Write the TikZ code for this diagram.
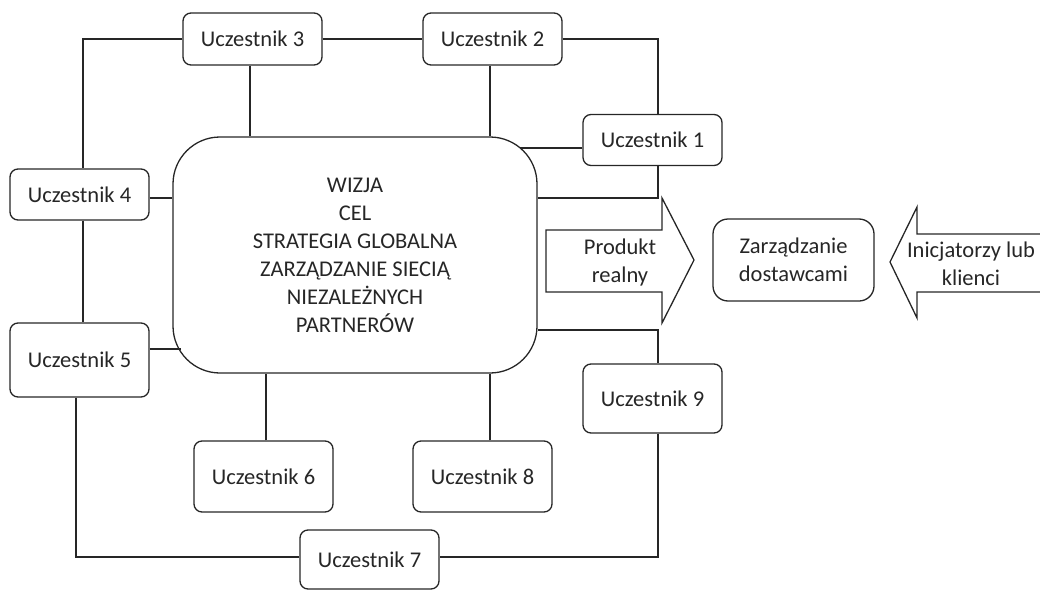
\documentclass[tikz,border=0pt]{standalone}
\usepackage{fontspec}
\setmainfont{Carlito}
\begin{document}
\begin{tikzpicture}[x=1pt,y=-1pt,
  txt/.style={font=\fontsize{22.5}{28}\selectfont, text=black!85, align=center, inner sep=0pt},
  ubox/.style={txt, draw=black!85, line width=1.3pt, rounded corners=8pt, minimum width=139pt},
  link/.style={line width=1.3pt, draw=black!85}]
\useasboundingbox (0,0) rectangle (1040,591);
% central
\node[txt, draw=black!85, line width=1.3pt, rounded corners=47pt, minimum width=364pt, minimum height=236pt] (c) at (355,255)
  {WIZJA\\CEL\\STRATEGIA GLOBALNA\\ZARZĄDZANIE SIECIĄ\\NIEZALEŻNYCH\\PARTNERÓW};
% participants
\node[ubox, minimum height=52pt] (u3) at (252.5,39) {Uczestnik 3};
\node[ubox, minimum height=52pt] (u2) at (492.5,39) {Uczestnik 2};
\node[ubox, minimum height=51pt] (u1) at (652.5,140) {Uczestnik 1};
\node[ubox, minimum height=51pt] (u4) at (79.5,194.5) {Uczestnik 4};
\node[ubox, minimum height=74pt] (u5) at (79.5,360) {Uczestnik 5};
\node[ubox, minimum height=71pt] (u6) at (263.5,476.5) {Uczestnik 6};
\node[ubox, minimum height=71pt] (u8) at (482.5,476.5) {Uczestnik 8};
\node[ubox, minimum height=69pt] (u9) at (652.5,398.5) {Uczestnik 9};
\node[ubox, minimum height=59pt] (u7) at (369.5,559.5) {Uczestnik 7};
\node[txt, draw=black!85, line width=1.3pt, rounded corners=15pt, minimum width=161pt, minimum height=82pt] (z) at (793.5,260)
  {Zarządzanie\\dostawcami};
% arc contact points
\coordinate (c1) at (520,148);
\coordinate (c5) at (181,349);
% connectors
\draw[link] (u3.west) -| (83,0 |- u4.north);
\draw[link] (u3.east) -- (u2.west);
\draw[link] (250,0 |- u3.south) -- (250,0 |- c.north);
\draw[link] (490,0 |- u2.south) -- (490,0 |- c.north);
\draw[link] (u2.east) -| (658,0 |- u1.north);
\draw[link] (u1.west |- c1) -- (c1);
\draw[link] (658,0 |- u1.south) |- (c.east |- 0,198);
\draw[link] (u4.east |- 0,198) -- (c.west |- 0,198);
\draw[link] (83,0 |- u4.south) -- (83,0 |- u5.north);
\draw[link] (u5.east |- c5) -- (c5);
\draw[link] (76,0 |- u5.south) |- (u7.west |- 0,557);
\draw[link] (266,0 |- u6.north) -- (266,0 |- c.south);
\draw[link] (490,0 |- u8.north) -- (490,0 |- c.south);
\draw[link] (c.east |- 0,330) -| (658,0 |- u9.north);
\draw[link] (658,0 |- u9.south) |- (u7.east |- 0,557);
% arrows
\draw[link, line join=miter] (546,230) -- (662,230) -- (662,198) -- (694,260) -- (662,323) -- (662,292) -- (546,292) -- cycle;
\node[txt] (p) at (620,262) {Produkt\\realny};
\draw[link, line join=miter] (1041,234) -- (917,234) -- (917,207) -- (890,262) -- (917,318) -- (917,292) -- (1041,292);
\node[txt] (ik) at (971,264) {Inicjatorzy lub\\klienci};
\end{tikzpicture}
\end{document}
